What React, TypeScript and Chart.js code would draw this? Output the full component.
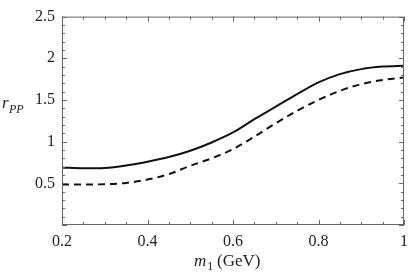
import React, { useEffect, useRef } from "react";
import { Chart, registerables } from "chart.js";

Chart.register(...registerables);

const xValues = [0.2, 0.25, 0.3, 0.35, 0.4, 0.45, 0.5, 0.55, 0.6, 0.65, 0.7, 0.75, 0.8, 0.85, 0.9, 0.95, 1.0];
const solidValues = [0.69, 0.68, 0.685, 0.715, 0.76, 0.815, 0.89, 0.99, 1.11, 1.27, 1.42, 1.57, 1.71, 1.81, 1.87, 1.9, 1.91];
const dashedValues = [0.485, 0.485, 0.49, 0.505, 0.545, 0.61, 0.71, 0.8, 0.91, 1.06, 1.22, 1.37, 1.5, 1.61, 1.69, 1.74, 1.77];
const xTickValues = [0.2, 0.4, 0.6, 0.8, 1];
const xTickLabels = ["0.2", "0.4", "0.6", "0.8", "1"];
const yTickValues = [0.5, 1, 1.5, 2, 2.5];
const yTickLabels = ["0.5", "1", "1.5", "2", "2.5"];

const SERIF = "'Liberation Serif', 'DejaVu Serif', serif";

const framePlugin = {
  id: "frameTicks",
  afterDraw(chart: any) {
    const { ctx, chartArea } = chart;
    const xs = chart.scales.x;
    const ys = chart.scales.y;
    const { left, right, top, bottom } = chartArea;
    ctx.save();
    ctx.strokeStyle = "#666";
    ctx.lineWidth = 1;
    ctx.strokeRect(left + 0.5, top + 0.5, right - left - 1, bottom - top - 1);
    ctx.beginPath();
    for (let i = 0; i <= 16; i++) {
      const v = 0.2 + i * 0.05;
      const px = Math.round(xs.getPixelForValue(v)) + 0.5;
      const len = i % 4 === 0 ? 5 : 3;
      ctx.moveTo(px, bottom);
      ctx.lineTo(px, bottom - len);
      ctx.moveTo(px, top);
      ctx.lineTo(px, top + len);
    }
    for (let i = 0; i <= 25; i++) {
      const v = i * 0.1;
      const py = Math.round(ys.getPixelForValue(v)) + 0.5;
      const len = i % 5 === 0 ? 5 : 3;
      ctx.moveTo(left, py);
      ctx.lineTo(left + len, py);
      ctx.moveTo(right, py);
      ctx.lineTo(right - len, py);
    }
    ctx.stroke();

    ctx.fillStyle = "#222";
    ctx.textBaseline = "alphabetic";
    ctx.textAlign = "left";
    ctx.font = `italic 17px ${SERIF}`;
    ctx.fillText("r", 2, 108);
    ctx.font = `italic 12px ${SERIF}`;
    ctx.fillText("PP", 9, 113);
    ctx.font = `italic 17px ${SERIF}`;
    ctx.fillText("m", 194, 266);
    const mW = ctx.measureText("m").width;
    ctx.font = `12px ${SERIF}`;
    ctx.fillText("1", 194 + mW + 1, 270);
    ctx.font = `17px ${SERIF}`;
    ctx.fillText("(GeV)", 217, 266);
    ctx.restore();
  },
};

export default function App() {
  const ref = useRef<HTMLCanvasElement | null>(null);
  useEffect(() => {
    if (!ref.current) return;
    const chart = new Chart(ref.current, {
      type: "line",
      data: {
        datasets: [
          {
            data: xValues.map((x, i) => ({ x, y: solidValues[i] })),
            borderColor: "#111",
            borderWidth: 2,
            pointRadius: 0,
            cubicInterpolationMode: "monotone",
            fill: false,
          },
          {
            data: xValues.map((x, i) => ({ x, y: dashedValues[i] })),
            borderColor: "#111",
            borderWidth: 2,
            borderDash: [7, 5],
            pointRadius: 0,
            cubicInterpolationMode: "monotone",
            fill: false,
          },
        ],
      },
      options: {
        animation: false,
        responsive: false,
        events: [],
        layout: { padding: { top: 10, right: 6, left: 0, bottom: 0 } },
        plugins: { legend: { display: false }, tooltip: { enabled: false } },
        scales: {
          x: {
            type: "linear",
            min: 0.2,
            max: 1,
            afterBuildTicks: (s: any) => {
              s.ticks = xTickValues.map((v) => ({ value: v }));
            },
            afterFit: (s: any) => {
              s.height = 51;
            },
            grid: { display: false, drawTicks: false },
            border: { display: false },
            ticks: {
              padding: 7,
              color: "#222",
              font: { family: SERIF, size: 16 },
              maxRotation: 0,
              autoSkip: false,
              callback: (v: any) => {
                const i = xTickValues.findIndex((t) => Math.abs(t - Number(v)) < 1e-6);
                return i >= 0 ? xTickLabels[i] : "";
              },
            },
          },
          y: {
            type: "linear",
            min: 0,
            max: 2.5,
            afterBuildTicks: (s: any) => {
              s.ticks = yTickValues.map((v) => ({ value: v }));
            },
            afterFit: (s: any) => {
              s.width = 62;
            },
            grid: { display: false, drawTicks: false },
            border: { display: false },
            ticks: {
              padding: 7,
              color: "#222",
              font: { family: SERIF, size: 16 },
              autoSkip: false,
              callback: (v: any) => {
                const i = yTickValues.findIndex((t) => Math.abs(t - Number(v)) < 1e-6);
                return i >= 0 ? yTickLabels[i] : "";
              },
            },
          },
        },
      },
      plugins: [framePlugin],
    } as any);
    return () => chart.destroy();
  }, []);
  return (
    <div style={{ position: "absolute", left: 0, top: 0, width: 415, height: 276, background: "#fff" }}>
      <canvas ref={ref} width={415} height={276} style={{ width: 415, height: 276, display: "block" }} />
    </div>
  );
}
